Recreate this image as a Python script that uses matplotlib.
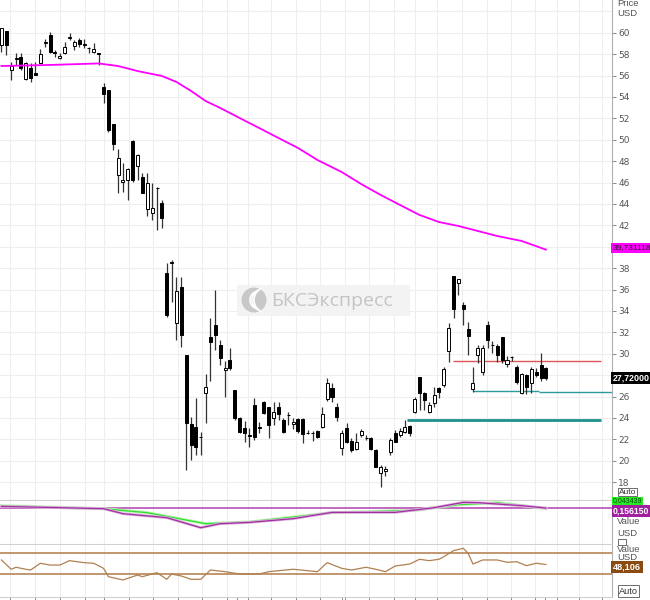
import matplotlib
matplotlib.use("Agg")
import matplotlib.pyplot as plt
from matplotlib.patches import Rectangle, Ellipse, Arc

W, H = 650, 600

# daily OHLC, USD
opens = [58.85, 60.16, 56.52, 57.5, 57.73, 55.68, 56.70, 56.24, 57.17, 59.0,
         59.79, 58.15, 57.64, 58.11, 59.5, 58.76, 59.32, 58.95, 58.6, 58.2,
         58.05, 54.93, 54.65, 51.47, 46.71, 46.05, 46.24, 49.88, 47.55, 46.52,
         43.53, 43.15, 45.45, 44.09, 37.55, 38.57, 32.87, 36.24, 29.88, 23.43,
         23.15, 22.2, 26.33, 31.56, 32.69, 30.82, 28.48, 29.42, 26.61, 24.00,
         23.06, 22.4, 25.21, 23.15, 25.49, 25.02, 24.00, 25.02, 23.81, 24.25,
         23.43, 23.90, 23.90, 22.6, 22.6, 22.78, 23.15, 25.77, 26.80, 25.02,
         21.19, 23.06, 21.84, 21.10, 22.40, 22.15, 22.13, 21.00, 18.85, 19.04,
         20.82, 22.59, 22.40, 22.69, 23.25, 24.56, 27.83, 26.33, 24.56, 25.40,
         26.80, 27.08, 30.26, 37.26, 36.61, 34.55, 32.31, 26.70, 29.88, 28.30,
         32.69, 30.8, 30.72, 31.56, 29.04, 29.68, 28.76, 26.33, 28.01, 27.27,
         28.30, 28.95, 28.67]
highs = [60.45, 60.16, 57.27, 58.11, 58.11, 57.27, 57.17, 57.27, 58.48, 59.42,
         60.07, 58.39, 58.11, 59.13, 59.98, 59.32, 59.51, 59.42, 58.67, 59.04,
         58.11, 55.30, 54.65, 51.47, 49.13, 47.83, 47.36, 49.98, 48.67, 46.89,
         46.89, 45.96, 45.58, 44.37, 38.48, 38.76, 37.17, 37.17, 29.88, 24.09,
         25.89, 22.69, 28.14, 33.34, 35.96, 31.28, 29.32, 30.54, 26.61, 24.09,
         23.71, 23.06, 25.86, 23.62, 25.58, 25.02, 25.49, 25.49, 24.00, 24.56,
         24.00, 24.00, 24.00, 22.87, 22.78, 22.87, 25.02, 27.73, 27.27, 25.40,
         22.87, 23.53, 22.13, 22.59, 22.97, 22.40, 22.22, 21.10, 19.60, 19.51,
         22.13, 22.87, 23.06, 23.81, 23.34, 25.96, 27.83, 26.42, 25.49, 26.89,
         26.89, 28.76, 32.87, 37.26, 36.98, 34.84, 32.97, 28.76, 30.82, 30.82,
         33.06, 31.19, 30.91, 31.56, 29.79, 29.79, 28.95, 28.20, 28.11, 28.76,
         28.67, 30.03, 28.76]
lows = [58.2, 57.92, 55.58, 56.98, 56.52, 55.58, 55.40, 56.05, 57.17, 58.67,
        58.11, 57.73, 57.55, 58.01, 59.32, 58.39, 58.67, 58.57, 58.11, 58.11,
        56.98, 53.43, 50.72, 49.04, 45.02, 45.12, 44.37, 46.05, 46.24, 45.02,
        42.87, 42.50, 41.56, 41.75, 33.43, 34.84, 31.28, 30.63, 19.13, 20.07,
        20.54, 20.54, 23.56, 27.45, 30.35, 28.95, 25.96, 28.48, 23.81, 22.59,
        21.75, 21.30, 21.94, 22.59, 24.37, 22.13, 23.34, 23.81, 22.59, 23.34,
        22.97, 22.59, 21.66, 22.50, 21.84, 22.13, 23.06, 25.58, 25.49, 23.71,
        20.54, 21.66, 20.82, 21.00, 22.22, 21.94, 21.00, 19.42, 17.55, 18.57,
        20.54, 21.75, 22.22, 22.59, 22.31, 24.46, 24.74, 24.74, 24.46, 25.02,
        25.86, 26.89, 29.23, 33.34, 35.49, 32.69, 29.88, 26.42, 29.14, 28.01,
        30.54, 30.07, 29.23, 29.14, 28.76, 29.32, 27.17, 26.24, 26.24, 26.33,
        27.83, 27.45, 27.55]
closes = [60.45, 58.85, 56.89, 57.6, 56.70, 57.17, 55.77, 56.05, 58.01, 59.1,
          58.2, 58.1, 57.83, 58.67, 59.55, 59.13, 58.95, 58.9, 58.55, 58.48,
          58.0, 54.27, 50.91, 49.60, 48.29, 46.24, 47.27, 46.24, 48.57, 45.02,
          45.96, 43.62, 45.5, 42.69, 33.62, 38.48, 35.86, 31.75, 23.53, 21.47,
          21.28, 22.25, 26.89, 31.10, 31.75, 29.60, 28.67, 28.67, 24.00, 22.69,
          22.59, 22.35, 22.22, 23.1, 24.46, 23.34, 24.56, 24.37, 22.69, 24.3,
          23.62, 22.78, 22.50, 22.55, 22.55, 22.22, 24.37, 27.27, 25.96, 24.09,
          22.59, 21.75, 21.00, 21.75, 22.78, 22.1, 21.10, 19.42, 19.42, 19.23,
          21.94, 21.75, 22.78, 23.15, 22.59, 25.77, 26.33, 25.68, 25.21, 26.14,
          26.42, 28.57, 32.41, 34.18, 36.98, 34.18, 31.66, 27.27, 30.54, 30.54,
          31.28, 30.85, 29.88, 29.42, 29.42, 29.72, 27.36, 28.11, 26.89, 28.57,
          28.01, 27.73, 27.72]

# moving average (magenta)
ma_idx = [0, 10, 20, 24, 28, 33, 36, 39, 42, 45, 49, 53, 57, 61, 65, 70, 74,
          78, 82, 86, 90, 94, 98, 102, 107, 112]
ma_vals = [56.89, 56.99, 57.13, 56.89, 56.42, 55.96, 55.4, 54.56, 53.62, 52.97,
           52.03, 51.1, 50.16, 49.23, 48.11, 46.98, 45.86, 44.84, 43.9, 42.97,
           42.31, 41.94, 41.47, 41.0, 40.54, 39.73]

# horizontal levels drawn on the price panel
level_prices = [29.32, 26.5, 26.43, 23.8]
level_from = [92.8, 97.1, 110.5, 83.4]
level_to = [123.4, 110.5, 125.6, 123.4]

# MACD panel
macd_idx = [0, 21, 25, 34, 41, 45, 51, 60, 68, 81, 89, 95, 98, 107, 112]
macd_vals = [0.48, 0.02, -0.98, -1.78, -3.78, -2.98, -2.72, -1.98, -0.72, -0.72,
             0.22, 1.28, 1.22, 0.62, 0.156]
sig_idx = [0, 21, 30, 42, 51, 68, 85, 94, 102, 112]
sig_vals = [0.62, 0.02, -0.78, -2.98, -2.64, -0.78, -0.32, 0.82, 1.22, 0.043]

# RSI panel
rsi_idx = [0, 2, 3, 5, 6, 8, 10, 12, 14, 17, 19, 21, 22, 25, 26, 28, 29, 31, 32,
           34, 35, 37, 39, 41, 43, 46, 49, 53, 55, 57, 60, 63, 65, 67, 70, 72,
           75, 77, 79, 81, 84, 86, 88, 90, 91, 93, 95, 96, 97, 99, 102, 104,
           106, 108, 110, 112]
rsi_vals = [56.7, 39.0, 42.8, 39.0, 37.6, 50.4, 47.0, 47.0, 55.4, 51.6, 50.4, 40.8,
            24.9, 18.6, 21.8, 28.0, 24.9, 30.0, 32.5, 19.9, 30.0, 26.2, 19.9, 19.9,
            37.6, 34.4, 30.0, 30.0, 34.4, 36.3, 39.0, 36.3, 34.4, 51.6, 40.8, 37.6,
            42.8, 39.0, 34.4, 45.2, 49.0, 58.0, 55.4, 58.0, 63.0, 74.4, 78.9, 69.4,
            49.0, 56.7, 56.7, 52.3, 53.4, 45.8, 50.4, 48.106]
rsi_bands = [70, 30]

# date tick positions (bar index)
week_ticks = [1.8, 7, 12.1, 17.2, 21, 26.3, 31.2, 36.3, 41.3, 46.4, 50.7, 55.4,
              60.6, 65.5, 70.6, 75.6, 80.7, 85, 89.5, 94.7, 99.8, 104.9, 109.7,
              114.2, 118.9, 123.6]
extra_ticks = [48.5, 70, 111.9]

price_ticks = list(range(18, 62, 2))
hidden_ticks = [28, 40]   # covered by the last-value tags

XMIN, XMAX = -0.3, 125.6
GRID = "#eeeeee"
AXC = "#b0b0b0"
TAGFONT = ["Liberation Sans", "DejaVu Sans"]


def fx(px):
    return px / W


def fy(py):
    return 1 - py / H


fig = plt.figure(figsize=(6.5, 6.0), dpi=100)
fig.patch.set_facecolor("white")

ax = fig.add_axes([0, fy(500), fx(612), 500 / H])
ax_m = fig.add_axes([0, fy(544), fx(612), 43 / H])
ax_r = fig.add_axes([0, fy(597), fx(612), 52 / H])

for a in (ax, ax_m, ax_r):
    a.set_xlim(XMIN, XMAX)
    a.set_facecolor("white")
    for s in ("left", "top"):
        a.spines[s].set_visible(False)
    a.spines["right"].set_color(AXC)
    a.spines["bottom"].set_color("#d0d0d0")
    a.spines["right"].set_linewidth(0.8)
    a.spines["bottom"].set_linewidth(0.8)
    for t in week_ticks:
        a.axvline(t, color=GRID, lw=0.8, zorder=0)
    a.set_xticks([])

# ---- price panel
ax.set_ylim(16.33, 63.06)
for p in range(18, 64, 2):
    ax.axhline(p, color=GRID, lw=0.8, zorder=0)
ax.yaxis.tick_right()
ax.set_yticks(price_ticks)
ax.set_yticklabels(["" if p in hidden_ticks else str(p) for p in price_ticks])
ax.tick_params(axis="y", direction="out", length=3, width=0.7, color="#888888",
               labelsize=6.5, labelcolor="#555555", pad=1.5)

idx = list(range(len(closes)))
ax.vlines(idx, lows, highs, color="#333333", lw=0.9, zorder=3)
bottoms = [min(o, c) for o, c in zip(opens, closes)]
heights = [max(abs(c - o), 0.06) for o, c in zip(opens, closes)]
colors = ["white" if c >= o else "black" for o, c in zip(opens, closes)]
ax.bar(idx, heights, bottom=bottoms, width=0.62, color=colors,
       edgecolor="black", linewidth=0.7, zorder=4)

ax.plot(ma_idx, ma_vals, color="#ff00ff", lw=1.3, zorder=5)

level_colors = ["#e05555", "#2a9d9a", "#2a9d9a", "#1f8f8c"]
level_widths = [1.0, 1.0, 1.0, 2.0]
for p, a0, a1, c, w in zip(level_prices, level_from, level_to, level_colors, level_widths):
    ax.hlines(p, a0, a1, color=c, lw=w, zorder=2)

# watermark
fig.add_artist(Rectangle((fx(237), fy(316)), fx(410) - fx(237), 31 / H,
                         transform=fig.transFigure, facecolor="#f3f3f3",
                         edgecolor="none", zorder=1))
fig.add_artist(Ellipse((fx(254), fy(300)), 25 / W, 25 / H, transform=fig.transFigure,
                       facecolor="#c8c8c8", edgecolor="none", zorder=1.5))
for dx, r in [(5, 18), (9, 22), (13, 26)]:
    fig.add_artist(Arc((fx(254 + dx), fy(300)), r / W, r / H, theta1=110, theta2=250,
                       transform=fig.transFigure, color="white", lw=1.2, zorder=1.6))
fig.text(fx(271), fy(301), "БКСЭкспресс", fontsize=14, color="#c4c4c4",
         ha="left", va="center", family="Open Sans", zorder=2)

# ---- MACD panel
ax_m.set_ylim(-7.04, 1.556)
ax_m.set_yticks([])
ax_m.axhline(0.156, color="#b040b0", lw=1.1, zorder=2)
ax_m.plot(sig_idx, sig_vals, color="#b8f5b0", lw=2.2, zorder=3)
ax_m.plot(sig_idx, sig_vals, color="#33dd33", lw=0.9, zorder=3)
ax_m.plot(macd_idx, macd_vals, color="#e0b0e0", lw=2.0, zorder=4)
ax_m.plot(macd_idx, macd_vals, color="#a030a0", lw=0.9, zorder=4)

# ---- RSI panel
ax_r.set_ylim(-13.8, 85.2)
ax_r.set_yticks([])
for b in rsi_bands:
    ax_r.axhline(b, color="#b07a48", lw=1.1, zorder=2)
ax_r.plot(rsi_idx, rsi_vals, color="#b08050", lw=0.9, zorder=3)
ax_r.set_xticks(week_ticks + extra_ticks)
ax_r.set_xticklabels([])
ax_r.tick_params(axis="x", direction="out", length=3, width=0.7, color="#888888")

# ---- right side labels


def tag(px, py, s, bg, fg, bold=False, edge="none", size=6.6, pad=0.2):
    fig.text(fx(px), fy(py), s, fontsize=size, color=fg, ha="left", va="center",
             family=TAGFONT, fontweight="bold" if bold else "normal", zorder=10,
             bbox=dict(boxstyle="square,pad=%s" % pad, facecolor=bg, edgecolor=edge, lw=0.6))


def note(px, py, s):
    fig.text(fx(px), fy(py), s, fontsize=6.8, color="#555555", va="center",
             ha="left", family=TAGFONT)


note(617, 4, "Price")
note(617, 14, "USD")
tag(613, 248, "39,731118", "#ff00ff", "#222222", size=6.0)
tag(613, 378, "27,72000", "black", "white", bold=True, size=6.4)
tag(619, 492, "Auto", "white", "#333333", edge="#555555", size=6.0, pad=0.1)
tag(613, 501, "0,043439", "#22ee22", "#114411", size=5.0, pad=0.08)
note(617, 522, "Value")
note(617, 533, "USD")
tag(613, 511, "0,156150", "#a020a0", "white", bold=True, size=6.2, pad=0.15)
tag(619, 542, "    ", "white", "#333333", edge="#555555", size=4, pad=0.1)
note(617, 549, "Value")
note(617, 558, "USD")
tag(613, 567, "48,106", "#8b4a10", "white", bold=True, size=6.6)
tag(619, 591, "Auto", "white", "#333333", edge="#555555", size=6.6, pad=0.15)

fig.savefig("out.png", dpi=100)
